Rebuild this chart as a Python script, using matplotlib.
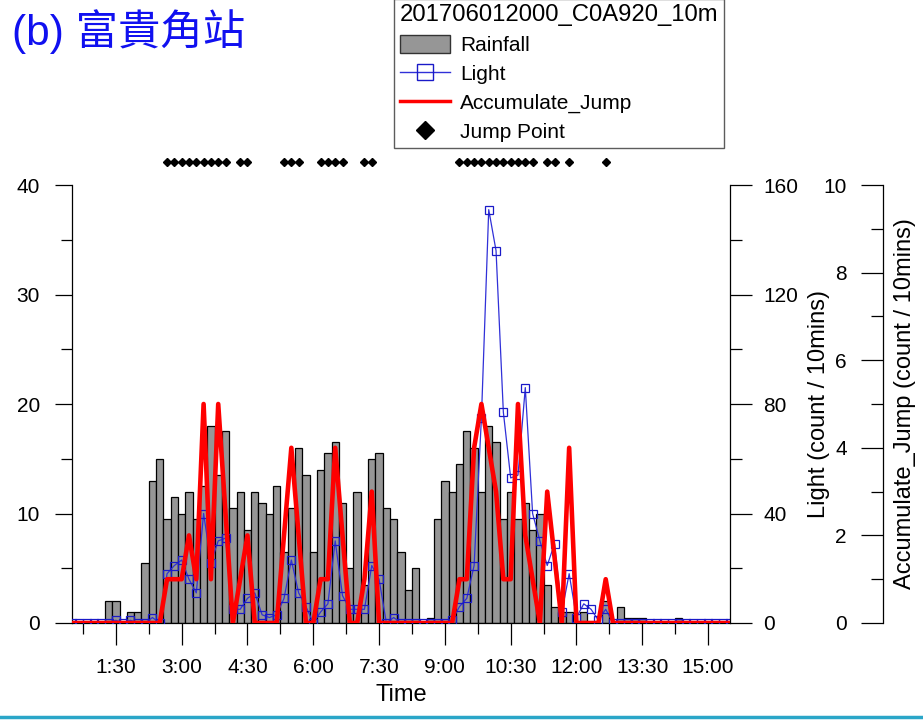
import numpy as np
import matplotlib.pyplot as plt
import matplotlib.transforms as mtransforms
from matplotlib.lines import Line2D
from matplotlib.patches import Patch
from matplotlib.ticker import MultipleLocator, FixedLocator

plt.rcParams['font.family'] = ['Liberation Sans', 'Noto Sans CJK TC', 'DejaVu Sans']

# Station C0A920, 10-minute records starting at 0:30
start_min = 30
step_min = 10

rainfall = [0, 0, 0, 0, 0, 2, 2, 0, 1, 1,
            5.5, 13, 15, 9.5, 11.5, 10, 12, 9.5, 12.5, 18,
            13.5, 17.5, 10.5, 12, 8.5, 12, 11, 10, 12.5, 6.5,
            10.5, 16, 13.5, 6.5, 14, 15.5, 16.5, 11, 5, 12,
            3.5, 15, 15.5, 10.5, 9.5, 6.5, 3, 5, 0, 0.5,
            9.5, 13, 12, 14.5, 17.5, 16, 12, 18, 16.5, 9.5,
            12, 9.5, 11, 8.5, 10, 3.5, 1.5, 1, 1, 0,
            1, 0, 0, 2, 0, 1.5, 0.5, 0.5, 0.5, 0,
            0, 0, 0, 0.5, 0, 0, 0, 0, 0, 0,
            0]

light = [0, 0, 0, 0, 0, 0, 1, 0, 1, 0,
         0, 2, 0, 18, 21, 23, 16, 11, 40, 22,
         30, 31, 5, 5, 9, 11, 3, 2, 3, 9,
         23, 11, 6, 0, 4, 7, 30, 10, 5, 5,
         5, 21, 16, 0, 2, 0, 0, 0, 0, 0,
         0, 0, 1, 6, 9, 21, 75, 151, 136, 77,
         53, 54, 86, 40, 30, 21, 29, 4, 18, 2,
         7, 5, 1, 5, 0, 0, 0, 0, 0, 0,
         0, 0, 0, 0, 0, 0, 0, 0, 0, 0,
         0]

accum_jump = [0, 0, 0, 0, 0, 0, 0, 0, 0, 0,
              0, 0, 0, 1, 1, 1, 2, 1, 5, 1,
              5, 2.5, 0, 1, 2, 0, 0, 0, 0, 2,
              4, 2, 0, 0, 1, 1, 4, 2, 0, 0,
              1, 3, 0, 0, 0, 0, 0, 0, 0, 0,
              0, 0, 0, 1, 1, 4, 5, 4, 3, 1,
              1, 5, 2, 1, 0, 3, 1.5, 0, 4, 0,
              0, 0, 0, 1, 0, 0, 0, 0, 0, 0,
              0, 0, 0, 0, 0, 0, 0, 0, 0, 0,
              0]

# record numbers flagged as lightning jumps
jump_idx = [13, 14, 15, 16, 17, 18, 19, 20, 21, 23, 24, 29, 30, 31,
            34, 35, 36, 37, 40, 41, 53, 54, 55, 56, 57, 58, 59, 60,
            61, 62, 63, 65, 66, 68, 73]

time_labels = ["1:30", "3:00", "4:30", "6:00", "7:30",
               "9:00", "10:30", "12:00", "13:30", "15:00"]

minutes = start_min + step_min * np.arange(len(rainfall))
jump_min = minutes[jump_idx]

fig = plt.figure(figsize=(9.23, 7.2), dpi=100)
ax = fig.add_axes([72 / 923, 97 / 720, 658 / 923, 438 / 720])

# rainfall bars on the left axis
ax.bar(minutes, rainfall, width=step_min, color='#969696', edgecolor='black',
       linewidth=0.9, zorder=1)

# lightning counts on the first right axis
ax2 = ax.twinx()
ax2.plot(minutes, light, color='#3030d8', linewidth=0.9, marker='s',
         markersize=5.5, markerfacecolor='none', markeredgecolor='#1a1ac8',
         markeredgewidth=0.9)

# accumulated jumps on the outer axis
ax3 = ax.twinx()
ax3.plot(minutes, accum_jump, color='#ff0000', linewidth=3.3)

# jump points sit in a row just above the plot area
trans = mtransforms.blended_transform_factory(ax.transData, ax.transAxes)
ax.plot(jump_min, np.full(len(jump_min), 1.0525), transform=trans,
        linestyle='none', marker='D', markersize=3.8, color='black',
        clip_on=False)

ax.set_xlim(30, 930)
ax.set_ylim(0, 40)
ax2.set_ylim(0, 160)
ax3.set_ylim(0, 10)

# x axis: major ticks every 90 minutes
major_pos = [90 * (i + 1) for i in range(len(time_labels))]
ax.xaxis.set_major_locator(FixedLocator(major_pos))
ax.set_xticklabels(time_labels)
ax.xaxis.set_minor_locator(FixedLocator([p - 45 for p in major_pos]))
ax.tick_params(axis='x', which='major', direction='out', length=16,
               width=0.9, pad=9, labelsize=15)
ax.tick_params(axis='x', which='minor', direction='out', length=8, width=0.9)
ax.set_xlabel('Time', fontsize=17, labelpad=5)

ax.yaxis.set_major_locator(MultipleLocator(10))
ax.yaxis.set_minor_locator(MultipleLocator(5))
ax.tick_params(axis='y', which='major', length=12, width=0.9, pad=11,
               labelsize=15)
ax.tick_params(axis='y', which='minor', length=8, width=0.9)

ax2.yaxis.set_major_locator(MultipleLocator(40))
ax2.yaxis.set_minor_locator(MultipleLocator(20))
ax2.tick_params(axis='y', which='major', length=16, width=0.9, pad=8,
                labelsize=15)
ax2.tick_params(axis='y', which='minor', length=8.5, width=0.9)
ax2.set_ylabel('Light (count / 10mins)', fontsize=17)
ax2.yaxis.set_label_coords(1.118, 0.5)

ax3.yaxis.set_ticks_position('left')
ax3.yaxis.set_label_position('right')
ax3.spines['left'].set_position(('axes', 1.2325))
ax3.yaxis.set_major_locator(MultipleLocator(2))
ax3.yaxis.set_minor_locator(MultipleLocator(1))
ax3.tick_params(axis='y', which='major', direction='out', length=16,
                width=0.9, pad=10, labelsize=15)
ax3.tick_params(axis='y', which='minor', direction='out', length=8.5,
                width=0.9)
ax3.set_ylabel('Accumulate_Jump (count / 10mins)', fontsize=17)
ax3.yaxis.set_label_coords(1.250, 0.5)

for s in ['top', 'right']:
    ax.spines[s].set_visible(False)
for s in ['top', 'left', 'bottom']:
    ax2.spines[s].set_visible(False)
for s in ['top', 'right', 'bottom']:
    ax3.spines[s].set_visible(False)
for a in [ax, ax2, ax3]:
    for sp in a.spines.values():
        sp.set_linewidth(0.9)

fig.text(12 / 923, 1 - 32 / 720, '(b) 富貴角站', fontsize=30.5, color='#1010f0',
         ha='left', va='center')

# legend with the run id as its title
handles = [
    Patch(facecolor='#969696', edgecolor='#333333', linewidth=1),
    Line2D([], [], color='#3030d8', linewidth=1, marker='s', markersize=12,
           markerfacecolor='none', markeredgecolor='#1a1ac8'),
    Line2D([], [], color='#ff0000', linewidth=2.5),
    Line2D([], [], linestyle='none', marker='D', markersize=9, color='black'),
]
labels = ['Rainfall', 'Light', 'Accumulate_Jump', 'Jump Point']
leg = fig.legend(handles, labels, title='201706012000_C0A920_10m',
                 loc='upper left', bbox_to_anchor=(394 / 923, 1.002),
                 fontsize=15, title_fontsize=17.2, frameon=True, fancybox=False,
                 edgecolor='#333333', handlelength=2.4, handleheight=1.0,
                 labelspacing=0.4, borderpad=0.28, handletextpad=0.5,
                 borderaxespad=0)
leg.get_frame().set_linewidth(1)
leg._legend_box.align = 'left'

# teal rule along the bottom edge
fig.add_artist(Line2D([0, 1], [1 - 717 / 720, 1 - 717 / 720],
                      transform=fig.transFigure, color='#2aa6c8', linewidth=2.5))

fig.savefig('out.png', dpi=100)
